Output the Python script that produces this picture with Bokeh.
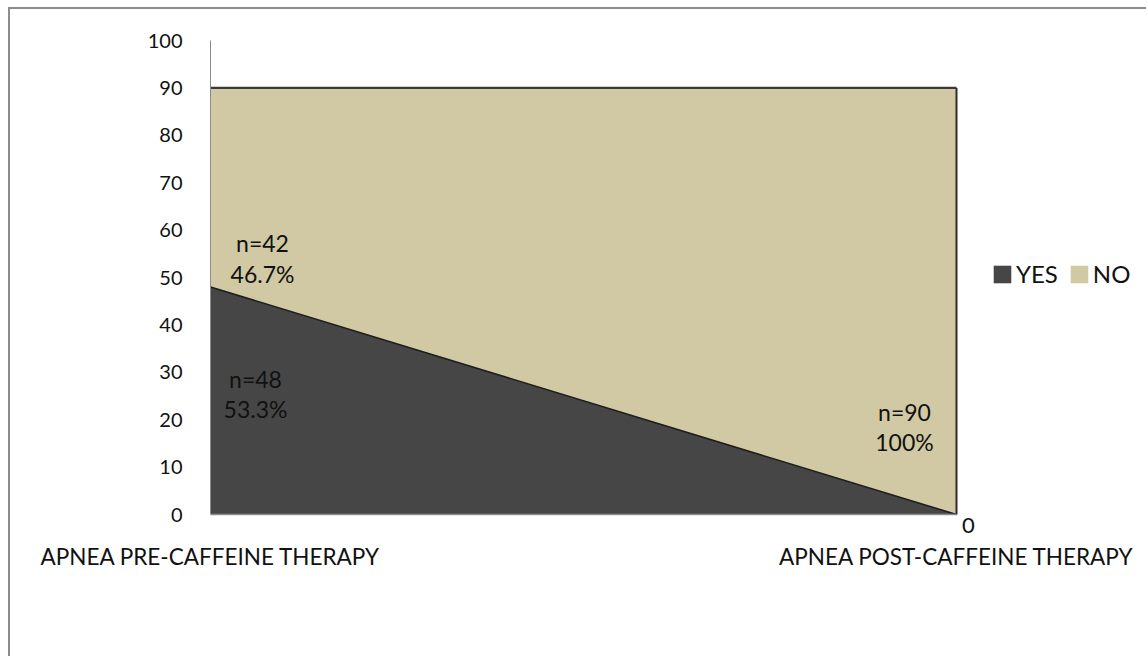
from bokeh.plotting import figure
from bokeh.models import ColumnDataSource, FixedTicker, Legend, LinearAxis
from bokeh.core.properties import value
from bokeh.embed import file_html
from bokeh.resources import INLINE

# Apnea status before and after caffeine therapy (number of infants)
stages = ["APNEA PRE-CAFFEINE THERAPY", "APNEA POST-CAFFEINE THERAPY"]
yes_counts = [48, 0]
no_counts = [42, 90]
y_ticks = [0, 10, 20, 30, 40, 50, 60, 70, 80, 90, 100]

FONT = "Lato"
YES_COLOR = "#464646"
NO_COLOR = "#d0c9a3"
TEXT_COLOR = "#111111"
AXIS_COLOR = "#8c8c8c"

xs = list(range(len(stages)))
totals = [a + b for a, b in zip(yes_counts, no_counts)]
src = ColumnDataSource(dict(x=xs, yes=yes_counts, no=no_counts, total=totals))

# the frame reaches past the last category and a little below zero so that
# the legend and the zero label sit inside it; the axes are bounded to the data
p = figure(width=1138, height=649, x_range=(0, 933 / 746), y_range=(-4, 100),
           output_backend="svg", toolbar_location=None,
           min_border_left=200, min_border_right=5,
           min_border_top=31, min_border_bottom=125)
p.margin = (7, 0, 0, 8)
p.styles = {"border-left": "2px solid #8c8c8c", "border-top": "2px solid #8c8c8c"}
p.outline_line_color = None
p.grid.visible = False
p.background_fill_color = "white"
p.border_fill_color = "white"

areas = p.varea_stack(["yes", "no"], x="x", source=src,
                      color=[YES_COLOR, NO_COLOR])

# boundary lines of the stacked areas
p.line("x", "yes", source=src, line_color="#1e1e1e", line_width=1.6)
p.line("x", "total", source=src, line_color="#3a3a3a", line_width=2.2)
p.segment(x0="x", y0=0, x1="x", y1="total",
          source=ColumnDataSource(dict(x=[xs[-1]], total=[totals[-1]])),
          line_color="#2c2c2c", line_width=2)


def pct(n, tot):
    v = 100.0 * n / tot
    return f"{v:.0f}%" if abs(v - round(v)) < 1e-9 else f"{v:.1f}%"


# data labels: count and share of each group
lab = ColumnDataSource(dict(
    x=[xs[0], xs[0], xs[1]],
    y=[yes_counts[0] + 6, yes_counts[0] / 2 + 1.5, no_counts[1] / 5 + 0.5],
    xo=[52, 45, -52],
    text=[f"n={no_counts[0]}\n{pct(no_counts[0], totals[0])}",
          f"n={yes_counts[0]}\n{pct(yes_counts[0], totals[0])}",
          f"n={no_counts[1]}\n{pct(no_counts[1], totals[1])}"],
))
p.text(x="x", y="y", text="text", x_offset="xo", source=lab,
       text_font=value(FONT), text_font_size="23px", text_color=TEXT_COLOR,
       text_align="center", text_baseline="middle", text_line_height=1.08)

# zero label for YES after therapy
p.text(x=[xs[1]], y=[yes_counts[1]], text=[str(yes_counts[1])],
       x_offset=12, y_offset=11, text_font=value(FONT), text_font_size="22px",
       text_color=TEXT_COLOR, text_align="center", text_baseline="middle")

# value axis
p.yaxis.bounds = (0, 100)
p.yaxis.ticker = FixedTicker(ticks=y_ticks)
p.yaxis.axis_line_color = AXIS_COLOR
p.yaxis.major_tick_line_color = None
p.yaxis.minor_tick_line_color = None
p.yaxis.major_label_standoff = 22
p.yaxis.major_label_text_font = FONT
p.yaxis.major_label_text_font_size = "20px"
p.yaxis.major_label_text_color = TEXT_COLOR

# category labels under the frame
p.xaxis.ticker = FixedTicker(ticks=xs)
p.xaxis.major_label_overrides = {i: s for i, s in enumerate(stages)}
p.xaxis.axis_line_color = None
p.xaxis.major_tick_line_color = None
p.xaxis.minor_tick_line_color = None
p.xaxis.major_label_standoff = 3
p.xaxis.major_label_text_font = FONT
p.xaxis.major_label_text_font_size = "22.5px"
p.xaxis.major_label_text_color = TEXT_COLOR

# category axis line along zero
base_axis = LinearAxis(fixed_location=0, bounds=(xs[0], xs[-1]),
                       ticker=FixedTicker(ticks=[]),
                       axis_line_color=AXIS_COLOR, axis_line_width=1.5,
                       major_tick_line_color=None, minor_tick_line_color=None,
                       major_label_text_color=None)
p.add_layout(base_axis, "below")

legend = Legend(items=[("YES", [areas[0]]), ("NO", [areas[1]])],
                orientation="horizontal", location=(781, 245),
                border_line_color=None, background_fill_alpha=0,
                label_text_font=FONT, label_text_font_size="24px",
                label_text_color=TEXT_COLOR, label_height=20,
                glyph_width=22, glyph_height=22, spacing=10,
                label_standoff=3, padding=0, margin=0)
p.add_layout(legend, "center")

open("out.html", "w").write(file_html(p, INLINE))
